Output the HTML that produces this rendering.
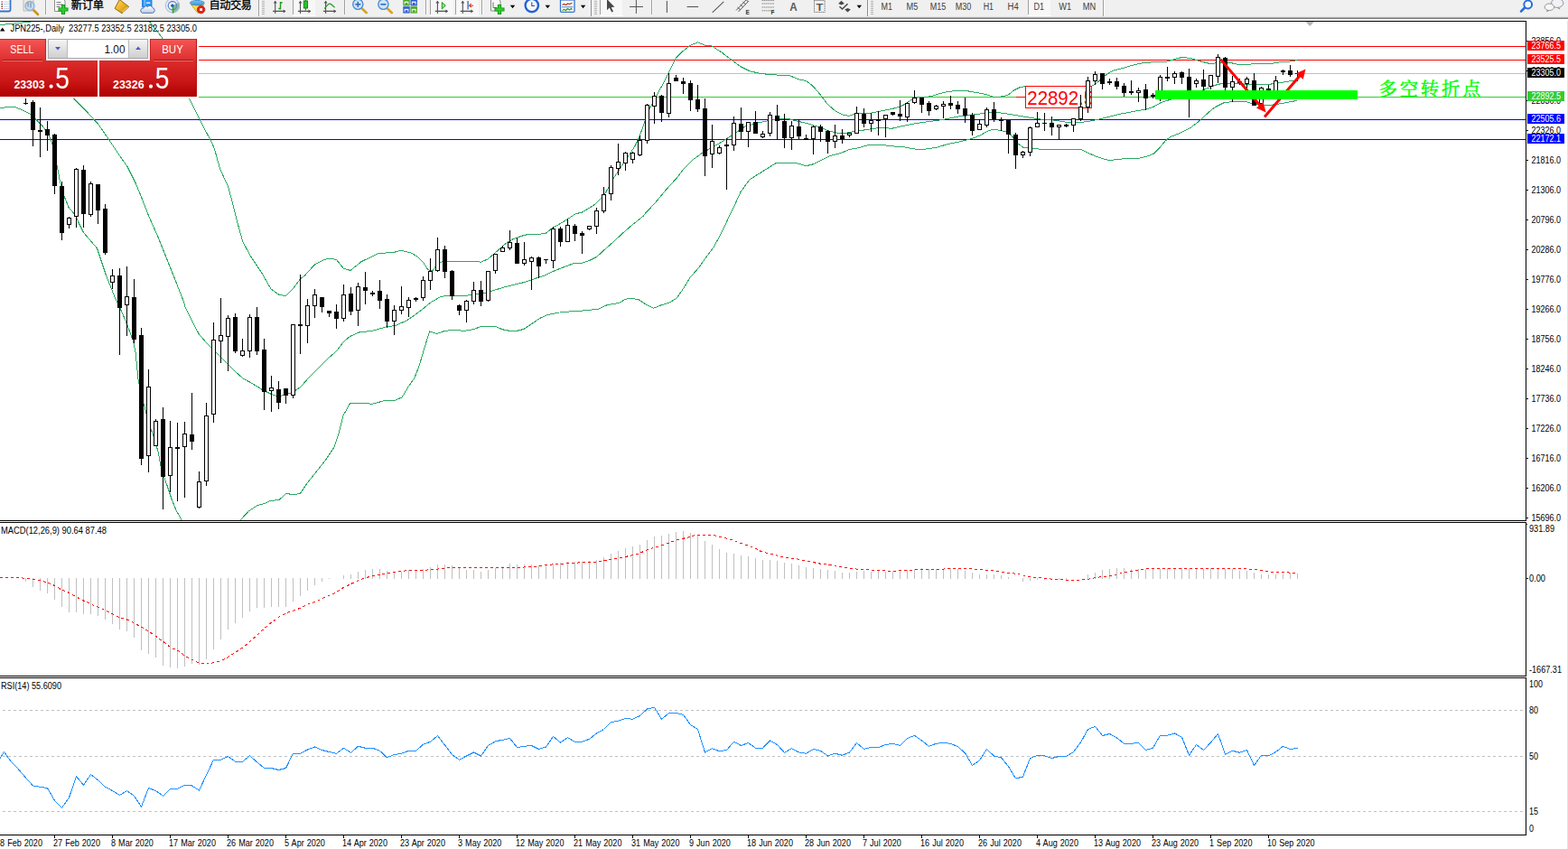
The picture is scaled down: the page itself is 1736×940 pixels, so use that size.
<!DOCTYPE html>
<html><head><meta charset="utf-8"><title>JPN225 Daily</title>
<style>html,body{margin:0;padding:0;background:#fff;overflow:hidden}body{width:1736px;height:940px;font-family:"Liberation Sans",sans-serif}</style>
</head><body>
<svg width="1736" height="940" viewBox="0 0 1736 940" font-family="Liberation Sans, sans-serif" style="display:block">
<defs>
<linearGradient id="gTop" x1="0" y1="0" x2="0" y2="1"><stop offset="0" stop-color="#f65555"/><stop offset="1" stop-color="#dd2f2f"/></linearGradient>
<linearGradient id="gBot" x1="0" y1="0" x2="0" y2="1"><stop offset="0" stop-color="#dc2c2c"/><stop offset="0.6" stop-color="#c81414"/><stop offset="1" stop-color="#ae0000"/></linearGradient>
<linearGradient id="gBtn" x1="0" y1="0" x2="0" y2="1"><stop offset="0" stop-color="#f4f4f4"/><stop offset="1" stop-color="#cfcfcf"/></linearGradient>
<pattern id="chk" width="2" height="2" patternUnits="userSpaceOnUse"><rect width="2" height="2" fill="#f0f0f0"/><rect width="1" height="1" fill="#fff"/><rect x="1" y="1" width="1" height="1" fill="#fff"/></pattern>
<clipPath id="cpMain"><rect x="0" y="24" width="1689" height="552"/></clipPath>
<clipPath id="cpBox"><rect x="1136" y="96" width="72" height="23"/></clipPath>
</defs>
<rect x="0" y="0" width="1736" height="940" fill="#fff" />
<g shape-rendering="crispEdges">
<rect x="0" y="51" width="1689" height="1" fill="#ff0000" />
<rect x="0" y="66" width="1689" height="1" fill="#ff0000" />
<rect x="0" y="81" width="1689" height="1" fill="#c0c0c0" />
<rect x="0" y="107" width="1689" height="1" fill="#32cd32" />
<rect x="0" y="132" width="1689" height="1" fill="#0000ff" />
<rect x="0" y="154" width="1689" height="1" fill="#0000ff" />
</g>
<g fill="none" stroke="#2aa862" stroke-width="1" clip-path="url(#cpMain)" shape-rendering="crispEdges">
<polyline points="0,27.6 20,25.6 34.5,24"/>
<polyline points="165.5,24 172,32 179,41 185,52 192,68 200,88 209.5,108.75 217.5,125 226.25,142.5 233.75,156.25 237.5,165 243.75,187.5 252.5,206.25 257.5,225 262.5,245 268.75,267.5 277.5,283.75 290,302.5 300,320 308.75,326.25 316.25,327.5 325,318.75 332.5,308.75 337.5,305 348.75,292.5 358,288 363.75,286 372.5,287.5 380,296.9 388,299.5 400,289.7 410,285 418.75,280.5 436.25,279.4 443.75,277.1 455,280 462.5,284.4 468.75,290.6 473.75,298.75 478.75,300 483.75,293.1 488.75,290 500,289.5 528.75,289.6 532.5,290.25 540,286.9 547.5,280.6 560,269.4 567.5,265 577.5,261.25 585,259.4 599.5,259 604.5,258.1 610.75,253.1 618.25,248.75 624.5,245 629.5,241.9 637,236.9 644.5,235 652,230.6 659.5,225.6 665,220 670,214.4 675,205 680,196.25 687.5,185 695,173.75 702.5,162.5 707.5,152.5 712.5,138.5 720,118.5 728.75,102.5 736.25,88.75 742.5,76.25 748.75,63.75 755,57.5 765,50 772.5,46.75 780,50 787.5,50.5 800,58.75 810,66.25 820,73.75 830,78.75 842.5,81.6 857.5,82.8 875,84 885,88.1 892.5,89.4 900,95.3 907.5,104 916.25,115.3 925,123.1 932.5,126.9 940,128.4 946.25,126.25 955,125.6 965,125 975,123.1 987.5,120.6 996.25,118.1 1002.5,115 1008.75,110.6 1017.5,107.5 1030,106.9 1037.5,104.4 1047.5,101.9 1057.5,100.6 1072.5,101 1085,103.1 1095,105.6 1100,107.4 1110,106.9 1116.25,105 1122.5,100 1128.75,96.9 1135,95.6 1170,95 1209.4,95 1215,91.25 1225,82.5 1232.5,78.1 1245,75 1255,71.9 1263.75,70 1270,69.75 1280,68.1 1290,68.75 1300,65.6 1307.5,63.75 1312.5,63.75 1320,65 1327.5,67.5 1337.5,70 1345,70 1360,69 1370,71.25 1382.5,71.25 1395,70 1407.5,70.4 1417.5,68.75 1427.5,68.1 1436.25,66.6"/>
<polyline points="0,75 30,80 60,92 81.25,108.75 95,122.5 108.75,137.5 120,153.75 130,168.75 141.25,185 150,202.5 156.25,217.5 165,240 175,262.5 185,287.5 195,312.5 203.75,335 205,340 212.5,355 220,369.5 230,381.25 240,391.25 246.25,397.5 257.5,408.75 268.75,418.75 280,425 290,431.25 300,436.25 307.5,438.75 315,437.5 325,433.75 332.5,428.75 342.5,417.5 360,400 363,397 372.5,388.75 380,378.75 387.5,372.5 397.5,368 412.5,366.25 427.5,361.9 437.5,360.6 450,355 457.5,350 467.5,342.5 477.5,334.4 487.5,328.75 495,327.25 505,328 515,327.5 525,325.6 537,324.2 549.5,320.6 562,316.9 580.75,312.5 593.25,308.1 604.5,304.4 612,300.6 624.5,295.6 634.5,291.9 644.5,291.25 652,288.75 660.75,284.4 669.5,276.25 679.5,267.5 689.5,258.1 699.5,249.4 712,239.4 713.75,237 725,225 737.5,210 750,196.25 756.25,188 767.5,176.6 777.5,169.4 787.5,163.75 797.5,158.1 806.25,152.5 817.5,145 825,140 837.5,136.25 850,133.75 862.5,131.5 872.5,131.5 883.75,134.4 895,136.9 900,138.75 907.5,140.6 916.25,144.4 925,146.9 932.5,148.1 940,146.5 950,145 962.5,143.1 975,141.25 987.5,142.25 1000,139.4 1012.5,136.9 1025,135 1037.5,133.5 1050,131.25 1062.5,128.75 1075,127.5 1085,126 1095,124.6 1105,124.6 1112.5,125.6 1125,127.75 1137.5,129.75 1150,131.9 1162.5,132.5 1172.5,134 1180,135.25 1190,135.6 1200,135 1210,133.5 1220,131.25 1230,128.75 1240,126.25 1250,124.4 1260,122.5 1270,120.6 1277.5,118.1 1285,113.75 1295,110.5 1310,105.5 1331,100 1337.5,97.5 1345,94.4 1352.5,92.5 1365,91.9 1377.5,93.1 1390,93.75 1402.5,93.75 1415,91.9 1427.5,90 1436.25,89.4"/>
<polyline points="0,120 10,118 17.5,118.75 25,122 33.75,126.25 40,132.5 47.5,140 53.75,148.75 58,160 62.5,180 66.25,200 71.25,217.5 76.25,230 82.5,237 87.5,247.5 92.5,257.5 100,266.25 107.5,275 112.5,290 117.5,305 122.5,317.5 127.5,330 132.5,340 140,357.5 147.5,377.5 150,390 153,420 156.25,437.5 160,450 165,470 170,482.5 175,500 178.75,520 185,537.5 190,552.5 195,565 200,573.75 201,576"/>
<polyline points="266,576 275,566.25 285,559.5 292.5,557.5 300,554.25 308.75,553.75 317,546.25 325,548 332.5,546.25 340,535 350,522.5 360,510 370,495 375,480 380,460 387.5,446.75 400,446.25 412.5,447.25 425,443.75 437.5,443.1 445,440 452.5,427.5 458.75,418.75 463.75,406.25 470,385 475.6,366.9 483.75,369.6 492.5,366.25 502.5,365.6 515,366.25 525,364.4 532.5,361.5 548.75,361.5 556.25,364.75 565,366.5 572.5,366.25 580,364.4 587.5,359.4 597.5,352.5 605,349 617,346.25 630,345 645,344 655,343 663,342 672.5,337.5 685,335.6 692.5,331.25 700,330.25 707.5,331.9 715,336.9 723.75,341.25 731.25,338.1 741.25,335 748.75,330.6 756.25,320 763.75,307.5 773.75,296.25 782.5,283.75 790,273.75 796.25,262.5 802.5,250 808.75,236.25 813.75,226.25 820,212.5 830,198.75 840,192.5 850,186.25 860,180 880,180 892.5,183.75 900,181.9 910,176.9 918.75,172.5 931.25,169.4 940,165.6 950,163.75 962.5,160.25 975,160.25 987.5,161.9 1000,162.5 1010,164.75 1020,165.6 1030,164.4 1037.5,163.1 1050,159.4 1062.5,156.9 1075,153.75 1085,150 1092.5,145.6 1100,143.1 1107.5,144.4 1115,146.25 1120,150 1125,157.5 1132.5,163.1 1141.25,163.75 1153.75,165.6 1175,165.6 1197.5,165.6 1206.25,170 1215,173.75 1225,176.9 1230,177.5 1237.5,176.25 1250,175.6 1262.5,175 1270,173.1 1277.5,170 1283.75,163.75 1290,156.25 1295,151.9 1307.5,146.9 1317.5,141.9 1325,136.25 1330,131.9 1337.5,125 1345,118.75 1355,113.75 1365,112.5 1380,112.75 1387.5,115 1400,116.5 1407.5,116.25 1420,114.4 1430,112.5 1436.25,111.25"/>
</g>
<g shape-rendering="crispEdges">
<rect x="1125" y="107" width="11" height="1" fill="#ff0000" />
<rect x="1135.5" y="95.5" width="73" height="24" fill="#fff" stroke="#ff0000" stroke-width="1"/>
</g>
<g clip-path="url(#cpBox)">
<text x="1137.3" y="115.7" font-size="22.6" fill="#ff0000" textLength="73.8" lengthAdjust="spacingAndGlyphs" >22892.5</text>
</g>
<g shape-rendering="crispEdges" fill="#000">
<rect x="28" y="109" width="1" height="7" fill="#000" />
<rect x="26" y="114" width="5" height="1" fill="#000" />
<rect x="36" y="111" width="1" height="51" fill="#000" />
<rect x="34" y="113" width="5" height="31" fill="#000" />
<rect x="44" y="119" width="1" height="55" fill="#000" />
<rect x="42" y="144" width="5" height="2" fill="#000" />
<rect x="52" y="134" width="1" height="33" fill="#000" />
<rect x="50" y="143" width="5" height="7" fill="#000" />
<rect x="60" y="148" width="1" height="67" fill="#000" />
<rect x="58" y="149" width="5" height="57" fill="#000" />
<rect x="68" y="201" width="1" height="65" fill="#000" />
<rect x="66" y="206" width="5" height="52" fill="#000" />
<rect x="76" y="240" width="1" height="13" fill="#000" />
<rect x="74" y="241" width="5" height="8" fill="#000" />
<rect x="75" y="242" width="3" height="6" fill="#fff" />
<rect x="84" y="186" width="1" height="66" fill="#000" />
<rect x="82" y="187" width="5" height="53" fill="#000" />
<rect x="83" y="188" width="3" height="51" fill="#fff" />
<rect x="92" y="183" width="1" height="69" fill="#000" />
<rect x="90" y="188" width="5" height="49" fill="#000" />
<rect x="100" y="201" width="1" height="39" fill="#000" />
<rect x="98" y="203" width="5" height="35" fill="#000" />
<rect x="99" y="204" width="3" height="33" fill="#fff" />
<rect x="108" y="204" width="1" height="44" fill="#000" />
<rect x="106" y="204" width="5" height="29" fill="#000" />
<rect x="116" y="226" width="1" height="56" fill="#000" />
<rect x="114" y="231" width="5" height="49" fill="#000" />
<rect x="124" y="298" width="1" height="22" fill="#000" />
<rect x="122" y="305" width="5" height="8" fill="#000" />
<rect x="123" y="306" width="3" height="6" fill="#fff" />
<rect x="132" y="297" width="1" height="96" fill="#000" />
<rect x="130" y="305" width="5" height="36" fill="#000" />
<rect x="140" y="295" width="1" height="77" fill="#000" />
<rect x="138" y="328" width="5" height="10" fill="#000" />
<rect x="139" y="329" width="3" height="8" fill="#fff" />
<rect x="148" y="309" width="1" height="71" fill="#000" />
<rect x="146" y="329" width="5" height="47" fill="#000" />
<rect x="156" y="363" width="1" height="152" fill="#000" />
<rect x="154" y="371" width="5" height="137" fill="#000" />
<rect x="164" y="409" width="1" height="114" fill="#000" />
<rect x="162" y="428" width="5" height="77" fill="#000" />
<rect x="163" y="429" width="3" height="75" fill="#fff" />
<rect x="172" y="464" width="1" height="30" fill="#000" />
<rect x="170" y="466" width="5" height="28" fill="#000" />
<rect x="171" y="467" width="3" height="26" fill="#fff" />
<rect x="180" y="451" width="1" height="113" fill="#000" />
<rect x="178" y="464" width="5" height="64" fill="#000" />
<rect x="188" y="466" width="1" height="79" fill="#000" />
<rect x="186" y="495" width="5" height="32" fill="#000" />
<rect x="187" y="496" width="3" height="30" fill="#fff" />
<rect x="196" y="468" width="1" height="87" fill="#000" />
<rect x="194" y="495" width="5" height="2" fill="#000" />
<rect x="204" y="467" width="1" height="84" fill="#000" />
<rect x="202" y="480" width="5" height="15" fill="#000" />
<rect x="203" y="481" width="3" height="13" fill="#fff" />
<rect x="212" y="435" width="1" height="63" fill="#000" />
<rect x="210" y="481" width="5" height="8" fill="#000" />
<rect x="220" y="522" width="1" height="41" fill="#000" />
<rect x="218" y="533" width="5" height="29" fill="#000" />
<rect x="219" y="534" width="3" height="27" fill="#fff" />
<rect x="228" y="446" width="1" height="92" fill="#000" />
<rect x="226" y="460" width="5" height="73" fill="#000" />
<rect x="227" y="461" width="3" height="71" fill="#fff" />
<rect x="236" y="357" width="1" height="111" fill="#000" />
<rect x="234" y="376" width="5" height="83" fill="#000" />
<rect x="235" y="377" width="3" height="81" fill="#fff" />
<rect x="244" y="330" width="1" height="72" fill="#000" />
<rect x="242" y="371" width="5" height="7" fill="#000" />
<rect x="243" y="372" width="3" height="5" fill="#fff" />
<rect x="252" y="349" width="1" height="62" fill="#000" />
<rect x="250" y="352" width="5" height="21" fill="#000" />
<rect x="251" y="353" width="3" height="19" fill="#fff" />
<rect x="260" y="347" width="1" height="44" fill="#000" />
<rect x="258" y="351" width="5" height="38" fill="#000" />
<rect x="268" y="375" width="1" height="20" fill="#000" />
<rect x="266" y="388" width="5" height="6" fill="#000" />
<rect x="267" y="389" width="3" height="4" fill="#fff" />
<rect x="276" y="348" width="1" height="48" fill="#000" />
<rect x="274" y="351" width="5" height="38" fill="#000" />
<rect x="275" y="352" width="3" height="36" fill="#fff" />
<rect x="284" y="340" width="1" height="53" fill="#000" />
<rect x="282" y="351" width="5" height="38" fill="#000" />
<rect x="292" y="375" width="1" height="79" fill="#000" />
<rect x="290" y="387" width="5" height="47" fill="#000" />
<rect x="300" y="416" width="1" height="40" fill="#000" />
<rect x="298" y="429" width="5" height="4" fill="#000" />
<rect x="299" y="430" width="3" height="2" fill="#fff" />
<rect x="308" y="422" width="1" height="31" fill="#000" />
<rect x="306" y="431" width="5" height="15" fill="#000" />
<rect x="316" y="430" width="1" height="17" fill="#000" />
<rect x="314" y="430" width="5" height="8" fill="#000" />
<rect x="324" y="359" width="1" height="82" fill="#000" />
<rect x="322" y="359" width="5" height="79" fill="#000" />
<rect x="323" y="360" width="3" height="77" fill="#fff" />
<rect x="332" y="304" width="1" height="88" fill="#000" />
<rect x="330" y="359" width="5" height="2" fill="#000" />
<rect x="340" y="331" width="1" height="49" fill="#000" />
<rect x="338" y="338" width="5" height="23" fill="#000" />
<rect x="339" y="339" width="3" height="21" fill="#fff" />
<rect x="348" y="320" width="1" height="32" fill="#000" />
<rect x="346" y="326" width="5" height="13" fill="#000" />
<rect x="347" y="327" width="3" height="11" fill="#fff" />
<rect x="356" y="329" width="1" height="17" fill="#000" />
<rect x="354" y="329" width="5" height="11" fill="#000" />
<rect x="364" y="344" width="1" height="7" fill="#000" />
<rect x="362" y="344" width="5" height="3" fill="#000" />
<rect x="372" y="337" width="1" height="27" fill="#000" />
<rect x="370" y="345" width="5" height="8" fill="#000" />
<rect x="380" y="315" width="1" height="41" fill="#000" />
<rect x="378" y="326" width="5" height="27" fill="#000" />
<rect x="379" y="327" width="3" height="25" fill="#fff" />
<rect x="388" y="318" width="1" height="31" fill="#000" />
<rect x="386" y="325" width="5" height="20" fill="#000" />
<rect x="396" y="313" width="1" height="48" fill="#000" />
<rect x="394" y="317" width="5" height="27" fill="#000" />
<rect x="395" y="318" width="3" height="25" fill="#fff" />
<rect x="404" y="301" width="1" height="36" fill="#000" />
<rect x="402" y="318" width="5" height="4" fill="#000" />
<rect x="412" y="322" width="1" height="6" fill="#000" />
<rect x="410" y="324" width="5" height="2" fill="#000" />
<rect x="420" y="310" width="1" height="32" fill="#000" />
<rect x="418" y="322" width="5" height="11" fill="#000" />
<rect x="428" y="326" width="1" height="37" fill="#000" />
<rect x="426" y="331" width="5" height="25" fill="#000" />
<rect x="436" y="338" width="1" height="33" fill="#000" />
<rect x="434" y="343" width="5" height="13" fill="#000" />
<rect x="435" y="344" width="3" height="11" fill="#fff" />
<rect x="444" y="317" width="1" height="31" fill="#000" />
<rect x="442" y="339" width="5" height="5" fill="#000" />
<rect x="443" y="340" width="3" height="3" fill="#fff" />
<rect x="452" y="329" width="1" height="22" fill="#000" />
<rect x="450" y="332" width="5" height="9" fill="#000" />
<rect x="451" y="333" width="3" height="7" fill="#fff" />
<rect x="460" y="329" width="1" height="5" fill="#000" />
<rect x="458" y="330" width="5" height="2" fill="#000" />
<rect x="468" y="306" width="1" height="27" fill="#000" />
<rect x="466" y="310" width="5" height="20" fill="#000" />
<rect x="467" y="311" width="3" height="18" fill="#fff" />
<rect x="476" y="286" width="1" height="35" fill="#000" />
<rect x="474" y="300" width="5" height="11" fill="#000" />
<rect x="475" y="301" width="3" height="9" fill="#fff" />
<rect x="484" y="263" width="1" height="38" fill="#000" />
<rect x="482" y="276" width="5" height="24" fill="#000" />
<rect x="483" y="277" width="3" height="22" fill="#fff" />
<rect x="492" y="272" width="1" height="36" fill="#000" />
<rect x="490" y="276" width="5" height="25" fill="#000" />
<rect x="500" y="299" width="1" height="33" fill="#000" />
<rect x="498" y="300" width="5" height="28" fill="#000" />
<rect x="508" y="337" width="1" height="12" fill="#000" />
<rect x="506" y="338" width="5" height="6" fill="#000" />
<rect x="516" y="332" width="1" height="25" fill="#000" />
<rect x="514" y="333" width="5" height="11" fill="#000" />
<rect x="515" y="334" width="3" height="9" fill="#fff" />
<rect x="524" y="312" width="1" height="25" fill="#000" />
<rect x="522" y="321" width="5" height="13" fill="#000" />
<rect x="523" y="322" width="3" height="11" fill="#fff" />
<rect x="532" y="311" width="1" height="28" fill="#000" />
<rect x="530" y="321" width="5" height="13" fill="#000" />
<rect x="540" y="300" width="1" height="34" fill="#000" />
<rect x="538" y="300" width="5" height="33" fill="#000" />
<rect x="539" y="301" width="3" height="31" fill="#fff" />
<rect x="548" y="281" width="1" height="22" fill="#000" />
<rect x="546" y="281" width="5" height="19" fill="#000" />
<rect x="547" y="282" width="3" height="17" fill="#fff" />
<rect x="556" y="272" width="1" height="7" fill="#000" />
<rect x="554" y="274" width="5" height="5" fill="#000" />
<rect x="555" y="275" width="3" height="3" fill="#fff" />
<rect x="564" y="255" width="1" height="22" fill="#000" />
<rect x="562" y="268" width="5" height="7" fill="#000" />
<rect x="563" y="269" width="3" height="5" fill="#fff" />
<rect x="572" y="263" width="1" height="29" fill="#000" />
<rect x="570" y="269" width="5" height="23" fill="#000" />
<rect x="580" y="268" width="1" height="26" fill="#000" />
<rect x="578" y="287" width="5" height="5" fill="#000" />
<rect x="579" y="288" width="3" height="3" fill="#fff" />
<rect x="588" y="284" width="1" height="37" fill="#000" />
<rect x="586" y="285" width="5" height="5" fill="#000" />
<rect x="587" y="286" width="3" height="3" fill="#fff" />
<rect x="596" y="284" width="1" height="24" fill="#000" />
<rect x="594" y="285" width="5" height="10" fill="#000" />
<rect x="604" y="287" width="1" height="5" fill="#000" />
<rect x="602" y="287" width="5" height="1" fill="#000" />
<rect x="612" y="251" width="1" height="46" fill="#000" />
<rect x="610" y="253" width="5" height="36" fill="#000" />
<rect x="611" y="254" width="3" height="34" fill="#fff" />
<rect x="620" y="251" width="1" height="22" fill="#000" />
<rect x="618" y="253" width="5" height="15" fill="#000" />
<rect x="628" y="242" width="1" height="26" fill="#000" />
<rect x="626" y="249" width="5" height="19" fill="#000" />
<rect x="627" y="250" width="3" height="17" fill="#fff" />
<rect x="636" y="248" width="1" height="19" fill="#000" />
<rect x="634" y="250" width="5" height="9" fill="#000" />
<rect x="644" y="256" width="1" height="25" fill="#000" />
<rect x="642" y="258" width="5" height="3" fill="#000" />
<rect x="652" y="250" width="1" height="5" fill="#000" />
<rect x="650" y="250" width="5" height="4" fill="#000" />
<rect x="651" y="251" width="3" height="2" fill="#fff" />
<rect x="660" y="230" width="1" height="29" fill="#000" />
<rect x="658" y="233" width="5" height="18" fill="#000" />
<rect x="659" y="234" width="3" height="16" fill="#fff" />
<rect x="668" y="207" width="1" height="29" fill="#000" />
<rect x="666" y="215" width="5" height="19" fill="#000" />
<rect x="667" y="216" width="3" height="17" fill="#fff" />
<rect x="676" y="183" width="1" height="39" fill="#000" />
<rect x="674" y="185" width="5" height="30" fill="#000" />
<rect x="675" y="186" width="3" height="28" fill="#fff" />
<rect x="684" y="159" width="1" height="35" fill="#000" />
<rect x="682" y="179" width="5" height="8" fill="#000" />
<rect x="683" y="180" width="3" height="6" fill="#fff" />
<rect x="692" y="168" width="1" height="21" fill="#000" />
<rect x="690" y="169" width="5" height="12" fill="#000" />
<rect x="691" y="170" width="3" height="10" fill="#fff" />
<rect x="700" y="168" width="1" height="13" fill="#000" />
<rect x="698" y="169" width="5" height="8" fill="#000" />
<rect x="699" y="170" width="3" height="6" fill="#fff" />
<rect x="708" y="150" width="1" height="23" fill="#000" />
<rect x="706" y="155" width="5" height="17" fill="#000" />
<rect x="707" y="156" width="3" height="15" fill="#fff" />
<rect x="716" y="115" width="1" height="44" fill="#000" />
<rect x="714" y="116" width="5" height="40" fill="#000" />
<rect x="715" y="117" width="3" height="38" fill="#fff" />
<rect x="724" y="102" width="1" height="35" fill="#000" />
<rect x="722" y="106" width="5" height="12" fill="#000" />
<rect x="723" y="107" width="3" height="10" fill="#fff" />
<rect x="732" y="105" width="1" height="30" fill="#000" />
<rect x="730" y="106" width="5" height="19" fill="#000" />
<rect x="740" y="81" width="1" height="49" fill="#000" />
<rect x="738" y="92" width="5" height="34" fill="#000" />
<rect x="739" y="93" width="3" height="32" fill="#fff" />
<rect x="748" y="83" width="1" height="7" fill="#000" />
<rect x="746" y="86" width="5" height="4" fill="#000" />
<rect x="756" y="86" width="1" height="18" fill="#000" />
<rect x="754" y="90" width="5" height="3" fill="#000" />
<rect x="764" y="89" width="1" height="34" fill="#000" />
<rect x="762" y="92" width="5" height="19" fill="#000" />
<rect x="772" y="94" width="1" height="30" fill="#000" />
<rect x="770" y="110" width="5" height="11" fill="#000" />
<rect x="780" y="109" width="1" height="86" fill="#000" />
<rect x="778" y="120" width="5" height="53" fill="#000" />
<rect x="788" y="138" width="1" height="48" fill="#000" />
<rect x="786" y="156" width="5" height="15" fill="#000" />
<rect x="787" y="157" width="3" height="13" fill="#fff" />
<rect x="796" y="161" width="1" height="10" fill="#000" />
<rect x="794" y="163" width="5" height="7" fill="#000" />
<rect x="795" y="164" width="3" height="5" fill="#fff" />
<rect x="804" y="153" width="1" height="57" fill="#000" />
<rect x="802" y="160" width="5" height="2" fill="#000" />
<rect x="812" y="129" width="1" height="38" fill="#000" />
<rect x="810" y="136" width="5" height="25" fill="#000" />
<rect x="811" y="137" width="3" height="23" fill="#fff" />
<rect x="820" y="119" width="1" height="35" fill="#000" />
<rect x="818" y="137" width="5" height="9" fill="#000" />
<rect x="828" y="135" width="1" height="28" fill="#000" />
<rect x="826" y="135" width="5" height="11" fill="#000" />
<rect x="827" y="136" width="3" height="9" fill="#fff" />
<rect x="836" y="123" width="1" height="25" fill="#000" />
<rect x="834" y="135" width="5" height="13" fill="#000" />
<rect x="844" y="145" width="1" height="8" fill="#000" />
<rect x="842" y="148" width="5" height="4" fill="#000" />
<rect x="843" y="149" width="3" height="2" fill="#fff" />
<rect x="852" y="124" width="1" height="27" fill="#000" />
<rect x="850" y="127" width="5" height="21" fill="#000" />
<rect x="851" y="128" width="3" height="19" fill="#fff" />
<rect x="860" y="116" width="1" height="39" fill="#000" />
<rect x="858" y="128" width="5" height="6" fill="#000" />
<rect x="868" y="126" width="1" height="38" fill="#000" />
<rect x="866" y="134" width="5" height="19" fill="#000" />
<rect x="876" y="134" width="1" height="32" fill="#000" />
<rect x="874" y="139" width="5" height="14" fill="#000" />
<rect x="875" y="140" width="3" height="12" fill="#fff" />
<rect x="884" y="132" width="1" height="22" fill="#000" />
<rect x="882" y="140" width="5" height="11" fill="#000" />
<rect x="892" y="149" width="1" height="6" fill="#000" />
<rect x="890" y="153" width="5" height="2" fill="#000" />
<rect x="900" y="139" width="1" height="32" fill="#000" />
<rect x="898" y="140" width="5" height="14" fill="#000" />
<rect x="899" y="141" width="3" height="12" fill="#fff" />
<rect x="908" y="138" width="1" height="19" fill="#000" />
<rect x="906" y="140" width="5" height="6" fill="#000" />
<rect x="916" y="144" width="1" height="26" fill="#000" />
<rect x="914" y="145" width="5" height="12" fill="#000" />
<rect x="924" y="138" width="1" height="26" fill="#000" />
<rect x="922" y="150" width="5" height="7" fill="#000" />
<rect x="923" y="151" width="3" height="5" fill="#fff" />
<rect x="932" y="143" width="1" height="16" fill="#000" />
<rect x="930" y="150" width="5" height="4" fill="#000" />
<rect x="940" y="147" width="1" height="5" fill="#000" />
<rect x="938" y="147" width="5" height="3" fill="#000" />
<rect x="939" y="148" width="3" height="1" fill="#fff" />
<rect x="948" y="118" width="1" height="30" fill="#000" />
<rect x="946" y="125" width="5" height="23" fill="#000" />
<rect x="947" y="126" width="3" height="21" fill="#fff" />
<rect x="956" y="120" width="1" height="21" fill="#000" />
<rect x="954" y="126" width="5" height="11" fill="#000" />
<rect x="964" y="125" width="1" height="21" fill="#000" />
<rect x="962" y="133" width="5" height="4" fill="#000" />
<rect x="963" y="134" width="3" height="2" fill="#fff" />
<rect x="972" y="123" width="1" height="27" fill="#000" />
<rect x="970" y="132" width="5" height="2" fill="#000" />
<rect x="980" y="127" width="1" height="25" fill="#000" />
<rect x="978" y="127" width="5" height="5" fill="#000" />
<rect x="979" y="128" width="3" height="3" fill="#fff" />
<rect x="988" y="124" width="1" height="4" fill="#000" />
<rect x="986" y="124" width="5" height="3" fill="#000" />
<rect x="996" y="111" width="1" height="23" fill="#000" />
<rect x="994" y="126" width="5" height="3" fill="#000" />
<rect x="1004" y="113" width="1" height="22" fill="#000" />
<rect x="1002" y="114" width="5" height="16" fill="#000" />
<rect x="1003" y="115" width="3" height="14" fill="#fff" />
<rect x="1012" y="100" width="1" height="15" fill="#000" />
<rect x="1010" y="108" width="5" height="6" fill="#000" />
<rect x="1011" y="109" width="3" height="4" fill="#fff" />
<rect x="1020" y="108" width="1" height="17" fill="#000" />
<rect x="1018" y="108" width="5" height="8" fill="#000" />
<rect x="1028" y="112" width="1" height="16" fill="#000" />
<rect x="1026" y="114" width="5" height="9" fill="#000" />
<rect x="1036" y="116" width="1" height="6" fill="#000" />
<rect x="1034" y="117" width="5" height="4" fill="#000" />
<rect x="1035" y="118" width="3" height="2" fill="#fff" />
<rect x="1044" y="112" width="1" height="19" fill="#000" />
<rect x="1042" y="115" width="5" height="3" fill="#000" />
<rect x="1043" y="116" width="3" height="1" fill="#fff" />
<rect x="1052" y="106" width="1" height="15" fill="#000" />
<rect x="1050" y="114" width="5" height="3" fill="#000" />
<rect x="1060" y="112" width="1" height="14" fill="#000" />
<rect x="1058" y="116" width="5" height="5" fill="#000" />
<rect x="1068" y="108" width="1" height="28" fill="#000" />
<rect x="1066" y="120" width="5" height="8" fill="#000" />
<rect x="1076" y="125" width="1" height="25" fill="#000" />
<rect x="1074" y="127" width="5" height="18" fill="#000" />
<rect x="1084" y="132" width="1" height="12" fill="#000" />
<rect x="1082" y="137" width="5" height="7" fill="#000" />
<rect x="1083" y="138" width="3" height="5" fill="#fff" />
<rect x="1092" y="119" width="1" height="22" fill="#000" />
<rect x="1090" y="121" width="5" height="18" fill="#000" />
<rect x="1091" y="122" width="3" height="16" fill="#fff" />
<rect x="1100" y="113" width="1" height="22" fill="#000" />
<rect x="1098" y="121" width="5" height="11" fill="#000" />
<rect x="1108" y="130" width="1" height="15" fill="#000" />
<rect x="1106" y="132" width="5" height="2" fill="#000" />
<rect x="1116" y="133" width="1" height="37" fill="#000" />
<rect x="1114" y="133" width="5" height="16" fill="#000" />
<rect x="1124" y="147" width="1" height="40" fill="#000" />
<rect x="1122" y="149" width="5" height="23" fill="#000" />
<rect x="1132" y="167" width="1" height="8" fill="#000" />
<rect x="1130" y="168" width="5" height="4" fill="#000" />
<rect x="1131" y="169" width="3" height="2" fill="#fff" />
<rect x="1140" y="140" width="1" height="33" fill="#000" />
<rect x="1138" y="141" width="5" height="28" fill="#000" />
<rect x="1139" y="142" width="3" height="26" fill="#fff" />
<rect x="1148" y="124" width="1" height="17" fill="#000" />
<rect x="1146" y="136" width="5" height="5" fill="#000" />
<rect x="1147" y="137" width="3" height="3" fill="#fff" />
<rect x="1156" y="125" width="1" height="20" fill="#000" />
<rect x="1154" y="136" width="5" height="1" fill="#000" />
<rect x="1164" y="129" width="1" height="21" fill="#000" />
<rect x="1162" y="136" width="5" height="5" fill="#000" />
<rect x="1172" y="138" width="1" height="17" fill="#000" />
<rect x="1170" y="138" width="5" height="3" fill="#000" />
<rect x="1171" y="139" width="3" height="1" fill="#fff" />
<rect x="1180" y="137" width="1" height="4" fill="#000" />
<rect x="1178" y="138" width="5" height="2" fill="#000" />
<rect x="1188" y="131" width="1" height="15" fill="#000" />
<rect x="1186" y="131" width="5" height="8" fill="#000" />
<rect x="1187" y="132" width="3" height="6" fill="#fff" />
<rect x="1196" y="105" width="1" height="29" fill="#000" />
<rect x="1194" y="118" width="5" height="14" fill="#000" />
<rect x="1195" y="119" width="3" height="12" fill="#fff" />
<rect x="1204" y="85" width="1" height="40" fill="#000" />
<rect x="1202" y="89" width="5" height="30" fill="#000" />
<rect x="1203" y="90" width="3" height="28" fill="#fff" />
<rect x="1212" y="79" width="1" height="15" fill="#000" />
<rect x="1210" y="82" width="5" height="8" fill="#000" />
<rect x="1211" y="83" width="3" height="6" fill="#fff" />
<rect x="1220" y="81" width="1" height="18" fill="#000" />
<rect x="1218" y="81" width="5" height="12" fill="#000" />
<rect x="1228" y="87" width="1" height="7" fill="#000" />
<rect x="1226" y="90" width="5" height="2" fill="#000" />
<rect x="1236" y="86" width="1" height="13" fill="#000" />
<rect x="1234" y="90" width="5" height="6" fill="#000" />
<rect x="1244" y="92" width="1" height="15" fill="#000" />
<rect x="1242" y="95" width="5" height="8" fill="#000" />
<rect x="1252" y="89" width="1" height="16" fill="#000" />
<rect x="1250" y="101" width="5" height="2" fill="#000" />
<rect x="1260" y="97" width="1" height="16" fill="#000" />
<rect x="1258" y="100" width="5" height="3" fill="#000" />
<rect x="1259" y="101" width="3" height="1" fill="#fff" />
<rect x="1268" y="93" width="1" height="29" fill="#000" />
<rect x="1266" y="99" width="5" height="10" fill="#000" />
<rect x="1276" y="103" width="1" height="6" fill="#000" />
<rect x="1274" y="105" width="5" height="2" fill="#000" />
<rect x="1284" y="83" width="1" height="29" fill="#000" />
<rect x="1282" y="85" width="5" height="21" fill="#000" />
<rect x="1283" y="86" width="3" height="19" fill="#fff" />
<rect x="1292" y="74" width="1" height="16" fill="#000" />
<rect x="1290" y="85" width="5" height="2" fill="#000" />
<rect x="1300" y="79" width="1" height="14" fill="#000" />
<rect x="1298" y="81" width="5" height="5" fill="#000" />
<rect x="1299" y="82" width="3" height="3" fill="#fff" />
<rect x="1308" y="79" width="1" height="14" fill="#000" />
<rect x="1306" y="80" width="5" height="6" fill="#000" />
<rect x="1316" y="76" width="1" height="54" fill="#000" />
<rect x="1314" y="85" width="5" height="19" fill="#000" />
<rect x="1324" y="87" width="1" height="10" fill="#000" />
<rect x="1322" y="89" width="5" height="4" fill="#000" />
<rect x="1323" y="90" width="3" height="2" fill="#fff" />
<rect x="1332" y="77" width="1" height="23" fill="#000" />
<rect x="1330" y="88" width="5" height="8" fill="#000" />
<rect x="1340" y="83" width="1" height="16" fill="#000" />
<rect x="1338" y="83" width="5" height="13" fill="#000" />
<rect x="1339" y="84" width="3" height="11" fill="#fff" />
<rect x="1348" y="60" width="1" height="32" fill="#000" />
<rect x="1346" y="63" width="5" height="22" fill="#000" />
<rect x="1347" y="64" width="3" height="20" fill="#fff" />
<rect x="1356" y="63" width="1" height="37" fill="#000" />
<rect x="1354" y="64" width="5" height="33" fill="#000" />
<rect x="1364" y="84" width="1" height="29" fill="#000" />
<rect x="1362" y="90" width="5" height="7" fill="#000" />
<rect x="1363" y="91" width="3" height="5" fill="#fff" />
<rect x="1372" y="87" width="1" height="7" fill="#000" />
<rect x="1370" y="90" width="5" height="2" fill="#000" />
<rect x="1380" y="85" width="1" height="16" fill="#000" />
<rect x="1378" y="87" width="5" height="6" fill="#000" />
<rect x="1379" y="88" width="3" height="4" fill="#fff" />
<rect x="1388" y="81" width="1" height="36" fill="#000" />
<rect x="1386" y="89" width="5" height="28" fill="#000" />
<rect x="1396" y="96" width="1" height="20" fill="#000" />
<rect x="1394" y="97" width="5" height="18" fill="#000" />
<rect x="1395" y="98" width="3" height="16" fill="#fff" />
<rect x="1404" y="94" width="1" height="11" fill="#000" />
<rect x="1402" y="98" width="5" height="5" fill="#000" />
<rect x="1412" y="84" width="1" height="22" fill="#000" />
<rect x="1410" y="89" width="5" height="15" fill="#000" />
<rect x="1411" y="90" width="3" height="13" fill="#fff" />
<rect x="1420" y="77" width="1" height="6" fill="#000" />
<rect x="1418" y="78" width="5" height="2" fill="#000" />
<rect x="1428" y="72" width="1" height="13" fill="#000" />
<rect x="1426" y="78" width="5" height="5" fill="#000" />
<rect x="1436" y="78" width="1" height="12" fill="#000" />
<rect x="1434" y="81" width="5" height="1" fill="#000" />
</g>
<polygon points="1445.5,24 1455,24 1450.2,29" fill="#b4b4b4"/>
<g stroke="#ff0000" stroke-width="3" fill="#ff0000" stroke-linecap="butt">
<line x1="1351.3" y1="65.6" x2="1396.5" y2="118.5"/>
<polygon points="1401.6,124.4 1391.0,119.5 1398.6,113.0" stroke="none"/>
<line x1="1400" y1="129.4" x2="1440" y2="82.8"/>
<polygon points="1445.5,76.4 1442.8,87.8 1435.0,81.2" stroke="none"/>
</g>
<rect x="1279" y="100" width="224" height="10" fill="#00ff00" shape-rendering="crispEdges"/>
<text x="1526.6" y="105.6" font-size="20.5" letter-spacing="2.6" fill="#00ff00" stroke="#00ff00" stroke-width="0.45" font-family="'Liberation Serif','Noto Serif CJK SC',serif">多空转折点</text>
<g shape-rendering="crispEdges" fill="#000">
<rect x="0" y="23" width="1690" height="1" fill="#000" />
<rect x="1689" y="23" width="1" height="902" fill="#000" />
<rect x="0" y="576" width="1690" height="1" fill="#000" />
<rect x="0" y="577" width="1689" height="1" fill="#fff" />
<rect x="0" y="578" width="1690" height="1" fill="#000" />
<rect x="0" y="748" width="1690" height="1" fill="#000" />
<rect x="0" y="749" width="1689" height="1" fill="#fff" />
<rect x="0" y="750" width="1690" height="1" fill="#000" />
<rect x="0" y="924" width="1690" height="1" fill="#000" />
<rect x="1735" y="21" width="1" height="919" fill="#e2e2e2" />
<rect x="1689" y="577" width="1" height="1" fill="#fff" />
<rect x="1689" y="749" width="1" height="1" fill="#fff" />
</g>
<g shape-rendering="crispEdges">
<rect x="1690" y="573" width="2" height="1" fill="#000" />
<rect x="1690" y="540" width="2" height="1" fill="#000" />
<rect x="1690" y="507" width="2" height="1" fill="#000" />
<rect x="1690" y="474" width="2" height="1" fill="#000" />
<rect x="1690" y="441" width="2" height="1" fill="#000" />
<rect x="1690" y="408" width="2" height="1" fill="#000" />
<rect x="1690" y="375" width="2" height="1" fill="#000" />
<rect x="1690" y="342" width="2" height="1" fill="#000" />
<rect x="1690" y="309" width="2" height="1" fill="#000" />
<rect x="1690" y="276" width="2" height="1" fill="#000" />
<rect x="1690" y="243" width="2" height="1" fill="#000" />
<rect x="1690" y="210" width="2" height="1" fill="#000" />
<rect x="1690" y="177" width="2" height="1" fill="#000" />
<rect x="1690" y="144" width="2" height="1" fill="#000" />
<rect x="1690" y="111" width="2" height="1" fill="#000" />
<rect x="1690" y="78" width="2" height="1" fill="#000" />
<rect x="1690" y="45" width="2" height="1" fill="#000" />
</g>
<text x="1695.4" y="577" font-size="10" fill="#000" textLength="32.6" lengthAdjust="spacingAndGlyphs" >15696.0</text>
<text x="1695.4" y="544" font-size="10" fill="#000" textLength="32.6" lengthAdjust="spacingAndGlyphs" >16206.0</text>
<text x="1695.4" y="511" font-size="10" fill="#000" textLength="32.6" lengthAdjust="spacingAndGlyphs" >16716.0</text>
<text x="1695.4" y="478" font-size="10" fill="#000" textLength="32.6" lengthAdjust="spacingAndGlyphs" >17226.0</text>
<text x="1695.4" y="445" font-size="10" fill="#000" textLength="32.6" lengthAdjust="spacingAndGlyphs" >17736.0</text>
<text x="1695.4" y="412" font-size="10" fill="#000" textLength="32.6" lengthAdjust="spacingAndGlyphs" >18246.0</text>
<text x="1695.4" y="379" font-size="10" fill="#000" textLength="32.6" lengthAdjust="spacingAndGlyphs" >18756.0</text>
<text x="1695.4" y="346" font-size="10" fill="#000" textLength="32.6" lengthAdjust="spacingAndGlyphs" >19266.0</text>
<text x="1695.4" y="313" font-size="10" fill="#000" textLength="32.6" lengthAdjust="spacingAndGlyphs" >19776.0</text>
<text x="1695.4" y="280" font-size="10" fill="#000" textLength="32.6" lengthAdjust="spacingAndGlyphs" >20286.0</text>
<text x="1695.4" y="247" font-size="10" fill="#000" textLength="32.6" lengthAdjust="spacingAndGlyphs" >20796.0</text>
<text x="1695.4" y="214" font-size="10" fill="#000" textLength="32.6" lengthAdjust="spacingAndGlyphs" >21306.0</text>
<text x="1695.4" y="181" font-size="10" fill="#000" textLength="32.6" lengthAdjust="spacingAndGlyphs" >21816.0</text>
<text x="1695.4" y="148" font-size="10" fill="#000" textLength="32.6" lengthAdjust="spacingAndGlyphs" >22326.0</text>
<text x="1695.4" y="115" font-size="10" fill="#000" textLength="32.6" lengthAdjust="spacingAndGlyphs" >22836.0</text>
<text x="1695.4" y="82" font-size="10" fill="#000" textLength="32.6" lengthAdjust="spacingAndGlyphs" >23346.0</text>
<text x="1695.4" y="49" font-size="10" fill="#000" textLength="32.6" lengthAdjust="spacingAndGlyphs" >23856.0</text>
<rect x="1691" y="45" width="41" height="11" fill="#ff0000" shape-rendering="crispEdges"/>
<text x="1695.4" y="54" font-size="10" fill="#fff" textLength="32.6" lengthAdjust="spacingAndGlyphs" >23766.5</text>
<rect x="1691" y="60" width="41" height="11" fill="#ff0000" shape-rendering="crispEdges"/>
<text x="1695.4" y="69" font-size="10" fill="#fff" textLength="32.6" lengthAdjust="spacingAndGlyphs" >23525.5</text>
<rect x="1691" y="75" width="41" height="11" fill="#000000" shape-rendering="crispEdges"/>
<text x="1695.4" y="84" font-size="10" fill="#fff" textLength="32.6" lengthAdjust="spacingAndGlyphs" >23305.0</text>
<rect x="1691" y="101" width="41" height="11" fill="#32cd32" shape-rendering="crispEdges"/>
<text x="1695.4" y="110" font-size="10" fill="#fff" textLength="32.6" lengthAdjust="spacingAndGlyphs" >22892.5</text>
<rect x="1691" y="126" width="41" height="11" fill="#0000ff" shape-rendering="crispEdges"/>
<text x="1695.4" y="135" font-size="10" fill="#fff" textLength="32.6" lengthAdjust="spacingAndGlyphs" >22505.6</text>
<rect x="1691" y="148" width="41" height="11" fill="#0000ff" shape-rendering="crispEdges"/>
<text x="1695.4" y="157" font-size="10" fill="#fff" textLength="32.6" lengthAdjust="spacingAndGlyphs" >22172.1</text>
<g shape-rendering="crispEdges" fill="#c0c0c0">
<rect x="28" y="640" width="1" height="4"/>
<rect x="36" y="640" width="1" height="10"/>
<rect x="44" y="640" width="1" height="14"/>
<rect x="52" y="640" width="1" height="17"/>
<rect x="60" y="640" width="1" height="24"/>
<rect x="68" y="640" width="1" height="32"/>
<rect x="76" y="640" width="1" height="38"/>
<rect x="84" y="640" width="1" height="38"/>
<rect x="92" y="640" width="1" height="40"/>
<rect x="100" y="640" width="1" height="40"/>
<rect x="108" y="640" width="1" height="42"/>
<rect x="116" y="640" width="1" height="46"/>
<rect x="124" y="640" width="1" height="51"/>
<rect x="132" y="640" width="1" height="57"/>
<rect x="140" y="640" width="1" height="59"/>
<rect x="148" y="640" width="1" height="66"/>
<rect x="156" y="640" width="1" height="80"/>
<rect x="164" y="640" width="1" height="84"/>
<rect x="172" y="640" width="1" height="88"/>
<rect x="180" y="640" width="1" height="97"/>
<rect x="188" y="640" width="1" height="99"/>
<rect x="196" y="640" width="1" height="100"/>
<rect x="204" y="640" width="1" height="98"/>
<rect x="212" y="640" width="1" height="95"/>
<rect x="220" y="640" width="1" height="96"/>
<rect x="228" y="640" width="1" height="90"/>
<rect x="236" y="640" width="1" height="79"/>
<rect x="244" y="640" width="1" height="68"/>
<rect x="252" y="640" width="1" height="57"/>
<rect x="260" y="640" width="1" height="50"/>
<rect x="268" y="640" width="1" height="44"/>
<rect x="276" y="640" width="1" height="37"/>
<rect x="284" y="640" width="1" height="33"/>
<rect x="292" y="640" width="1" height="33"/>
<rect x="300" y="640" width="1" height="32"/>
<rect x="308" y="640" width="1" height="32"/>
<rect x="316" y="640" width="1" height="32"/>
<rect x="324" y="640" width="1" height="26"/>
<rect x="332" y="640" width="1" height="20"/>
<rect x="340" y="640" width="1" height="14"/>
<rect x="348" y="640" width="1" height="8"/>
<rect x="356" y="640" width="1" height="4"/>
<rect x="364" y="640" width="1" height="1"/>
<rect x="380" y="637" width="1" height="4"/>
<rect x="388" y="636" width="1" height="5"/>
<rect x="396" y="633" width="1" height="8"/>
<rect x="404" y="631" width="1" height="10"/>
<rect x="412" y="630" width="1" height="11"/>
<rect x="420" y="630" width="1" height="11"/>
<rect x="428" y="632" width="1" height="9"/>
<rect x="436" y="633" width="1" height="8"/>
<rect x="444" y="633" width="1" height="8"/>
<rect x="452" y="631" width="1" height="10"/>
<rect x="460" y="631" width="1" height="10"/>
<rect x="468" y="630" width="1" height="11"/>
<rect x="476" y="628" width="1" height="13"/>
<rect x="484" y="625" width="1" height="16"/>
<rect x="492" y="625" width="1" height="16"/>
<rect x="500" y="626" width="1" height="15"/>
<rect x="508" y="629" width="1" height="12"/>
<rect x="516" y="631" width="1" height="10"/>
<rect x="524" y="631" width="1" height="10"/>
<rect x="532" y="633" width="1" height="8"/>
<rect x="540" y="631" width="1" height="10"/>
<rect x="548" y="629" width="1" height="12"/>
<rect x="556" y="627" width="1" height="14"/>
<rect x="564" y="624" width="1" height="17"/>
<rect x="572" y="625" width="1" height="16"/>
<rect x="580" y="625" width="1" height="16"/>
<rect x="588" y="625" width="1" height="16"/>
<rect x="596" y="626" width="1" height="15"/>
<rect x="604" y="625" width="1" height="16"/>
<rect x="612" y="624" width="1" height="17"/>
<rect x="620" y="623" width="1" height="18"/>
<rect x="628" y="622" width="1" height="19"/>
<rect x="636" y="622" width="1" height="19"/>
<rect x="644" y="622" width="1" height="19"/>
<rect x="652" y="621" width="1" height="20"/>
<rect x="660" y="620" width="1" height="21"/>
<rect x="668" y="617" width="1" height="24"/>
<rect x="676" y="613" width="1" height="28"/>
<rect x="684" y="610" width="1" height="31"/>
<rect x="692" y="607" width="1" height="34"/>
<rect x="700" y="605" width="1" height="36"/>
<rect x="708" y="603" width="1" height="38"/>
<rect x="716" y="598" width="1" height="43"/>
<rect x="724" y="594" width="1" height="47"/>
<rect x="732" y="593" width="1" height="48"/>
<rect x="740" y="591" width="1" height="50"/>
<rect x="748" y="589" width="1" height="52"/>
<rect x="756" y="588" width="1" height="53"/>
<rect x="764" y="590" width="1" height="51"/>
<rect x="772" y="593" width="1" height="48"/>
<rect x="780" y="599" width="1" height="42"/>
<rect x="788" y="603" width="1" height="38"/>
<rect x="796" y="608" width="1" height="33"/>
<rect x="804" y="612" width="1" height="29"/>
<rect x="812" y="613" width="1" height="28"/>
<rect x="820" y="615" width="1" height="26"/>
<rect x="828" y="616" width="1" height="25"/>
<rect x="836" y="618" width="1" height="23"/>
<rect x="844" y="620" width="1" height="21"/>
<rect x="852" y="620" width="1" height="21"/>
<rect x="860" y="621" width="1" height="20"/>
<rect x="868" y="623" width="1" height="18"/>
<rect x="876" y="624" width="1" height="17"/>
<rect x="884" y="626" width="1" height="15"/>
<rect x="892" y="628" width="1" height="13"/>
<rect x="900" y="629" width="1" height="12"/>
<rect x="908" y="630" width="1" height="11"/>
<rect x="916" y="631" width="1" height="10"/>
<rect x="924" y="632" width="1" height="9"/>
<rect x="932" y="634" width="1" height="7"/>
<rect x="940" y="634" width="1" height="7"/>
<rect x="948" y="633" width="1" height="8"/>
<rect x="956" y="632" width="1" height="9"/>
<rect x="964" y="633" width="1" height="8"/>
<rect x="972" y="632" width="1" height="9"/>
<rect x="980" y="633" width="1" height="8"/>
<rect x="988" y="633" width="1" height="8"/>
<rect x="996" y="632" width="1" height="9"/>
<rect x="1004" y="631" width="1" height="10"/>
<rect x="1012" y="630" width="1" height="11"/>
<rect x="1020" y="629" width="1" height="12"/>
<rect x="1028" y="630" width="1" height="11"/>
<rect x="1036" y="630" width="1" height="11"/>
<rect x="1044" y="630" width="1" height="11"/>
<rect x="1052" y="629" width="1" height="12"/>
<rect x="1060" y="630" width="1" height="11"/>
<rect x="1068" y="632" width="1" height="9"/>
<rect x="1076" y="634" width="1" height="7"/>
<rect x="1084" y="636" width="1" height="5"/>
<rect x="1092" y="636" width="1" height="5"/>
<rect x="1100" y="636" width="1" height="5"/>
<rect x="1108" y="637" width="1" height="4"/>
<rect x="1116" y="639" width="1" height="2"/>
<rect x="1132" y="640" width="1" height="4"/>
<rect x="1140" y="640" width="1" height="3"/>
<rect x="1148" y="640" width="1" height="2"/>
<rect x="1156" y="640" width="1" height="2"/>
<rect x="1164" y="640" width="1" height="2"/>
<rect x="1172" y="640" width="1" height="2"/>
<rect x="1180" y="640" width="1" height="2"/>
<rect x="1204" y="636" width="1" height="5"/>
<rect x="1212" y="634" width="1" height="7"/>
<rect x="1220" y="631" width="1" height="10"/>
<rect x="1228" y="630" width="1" height="11"/>
<rect x="1236" y="629" width="1" height="12"/>
<rect x="1244" y="629" width="1" height="12"/>
<rect x="1252" y="630" width="1" height="11"/>
<rect x="1260" y="630" width="1" height="11"/>
<rect x="1268" y="630" width="1" height="11"/>
<rect x="1276" y="630" width="1" height="11"/>
<rect x="1284" y="630" width="1" height="11"/>
<rect x="1292" y="629" width="1" height="12"/>
<rect x="1300" y="629" width="1" height="12"/>
<rect x="1308" y="629" width="1" height="12"/>
<rect x="1316" y="630" width="1" height="11"/>
<rect x="1324" y="630" width="1" height="11"/>
<rect x="1332" y="630" width="1" height="11"/>
<rect x="1340" y="629" width="1" height="12"/>
<rect x="1348" y="629" width="1" height="12"/>
<rect x="1356" y="630" width="1" height="11"/>
<rect x="1364" y="630" width="1" height="11"/>
<rect x="1372" y="632" width="1" height="9"/>
<rect x="1380" y="632" width="1" height="9"/>
<rect x="1388" y="634" width="1" height="7"/>
<rect x="1396" y="636" width="1" height="5"/>
<rect x="1404" y="636" width="1" height="5"/>
<rect x="1412" y="636" width="1" height="5"/>
<rect x="1420" y="636" width="1" height="5"/>
<rect x="1428" y="634" width="1" height="7"/>
<rect x="1436" y="635" width="1" height="6"/>
</g>
<polyline points="0,639.5 20,639.5 32.5,640.75 45,643 52.5,645 60,648.25 67.5,652.5 75,655.75 85,661.25 95,666.25 105,670.75 115,675 125,680 132.5,683.75 140,685.75 150,690.5 160,696.25 170,702.5 180,710 190,717.5 197.5,720.75 205,726.25 212.5,730.5 220,733.75 230,735 240,733 250,729.25 260,722.5 270,716.25 280,707.5 290,698.25 300,689.5 310,682.5 320,677.5 330,674.25 340,669.5 350,665.75 360,661.25 370,657 380,650.75 390,645.75 400,641.25 410,638.25 420,636.25 430,634.25 445,632.5 452.5,631.25 470,631.25 485,630 500,628.25 545,628.25 575,628.25 590,627.5 605,625.5 620,624.25 635,623.25 650,622.5 665,621.75 675,619.5 690,617 705,613.75 720,607.5 735,603.25 750,597.5 760,595.5 770,592.5 790,592.5 800,595 812.5,598.25 825,603.25 835,606.25 842.5,610.5 850,612.5 860,615 870,617.5 885,619.25 897.5,622 910,624.5 922.5,625.75 935,628.25 947.5,630 965,631.25 980,632 995,632 1010,631.25 1025,630 1045,630 1055,629.25 1070,629.25 1085,630.5 1100,632 1115,634.25 1127.5,635.5 1140,638.75 1152.5,640 1165,641.25 1180,642 1195,642 1205,641.25 1215,639.25 1225,638 1235,636.25 1245,633.75 1255,632 1265,630.5 1275,629.25 1367.5,629.25 1380,630 1395,631.25 1405,633 1422.5,633.25 1430,634.5 1436,634.5" fill="none" stroke="#ff0000" stroke-width="1" stroke-dasharray="3 3" shape-rendering="crispEdges"/>
<text x="1" y="591" font-size="10" fill="#000" textLength="117" lengthAdjust="spacingAndGlyphs" >MACD(12,26,9) 90.64 87.48</text>
<rect x="1690" y="580" width="1" height="1" fill="#000" />
<rect x="1690" y="640" width="2" height="1" fill="#000" />
<text x="1693" y="589" font-size="10" fill="#000" textLength="28" lengthAdjust="spacingAndGlyphs" >931.89</text>
<text x="1693" y="644" font-size="10" fill="#000" textLength="18" lengthAdjust="spacingAndGlyphs" >0.00</text>
<text x="1693" y="745" font-size="10" fill="#000" textLength="36" lengthAdjust="spacingAndGlyphs" >-1667.31</text>
<g shape-rendering="crispEdges" stroke="#c0c0c0" stroke-width="1" stroke-dasharray="3 3">
<line x1="3" y1="786.5" x2="1689" y2="786.5"/>
<line x1="3" y1="837.5" x2="1689" y2="837.5"/>
<line x1="3" y1="898.5" x2="1689" y2="898.5"/>
</g>
<polyline points="0,840 4.5,832.5 12.5,843.75 20.5,851.75 28.5,861.25 36.5,870 44.5,871.25 52.5,872.5 60.5,886.25 68.5,894.5 76.5,883 84.5,859.5 92.5,869.25 100.5,857.5 108.5,863.75 116.5,871.25 124.5,875.5 132.5,880.5 140.5,875.5 148.5,881.25 156.5,893.25 164.5,872.5 172.5,875.5 180.5,881.25 188.5,873.25 196.5,873.25 204.5,869.25 212.5,870 220.5,875 228.5,858 236.5,841.25 244.5,841.25 252.5,837.5 260.5,843.25 268.5,843.25 276.5,836.75 284.5,843.75 292.5,850.5 300.5,850.5 308.5,852.5 316.5,850.5 324.5,834.25 332.5,834.25 340.5,830 348.5,827 356.5,830.5 364.5,832.5 372.5,834.25 380.5,828.25 388.5,833.25 396.5,826.25 404.5,828.25 412.5,828.25 420.5,831.25 428.5,838.75 436.5,835.5 444.5,834.25 452.5,831.25 460.5,831.25 468.5,824.25 476.5,821.25 484.5,814.5 492.5,825 500.5,835.5 508.5,841.25 516.5,837 524.5,833 532.5,837 540.5,825.5 548.5,820.75 556.5,819.25 564.5,817.5 572.5,827.5 580.5,826.25 588.5,825.5 596.5,829.5 604.5,827 612.5,815.5 620.5,822 628.5,816.75 636.5,821.25 644.5,821.25 652.5,818.25 660.5,812 668.5,807.5 676.5,799.5 684.5,798.25 692.5,795.5 700.5,796.25 708.5,792.5 716.5,785 724.5,783.25 732.5,796.25 740.5,789.5 748.5,789.5 756.5,791.25 764.5,802.5 772.5,807.5 780.5,833 788.5,828.75 796.5,831.75 804.5,830.5 812.5,821.25 820.5,825.5 828.5,822.5 836.5,828.25 844.5,828.25 852.5,820 860.5,824.5 868.5,833.25 876.5,828.75 884.5,833 892.5,834.25 900.5,829.5 908.5,831.25 916.5,837 924.5,834.25 932.5,836.25 940.5,833 948.5,822.5 956.5,829.25 964.5,827.5 972.5,827.5 980.5,824.5 988.5,823.25 996.5,825.5 1004.5,817.5 1012.5,814.25 1020.5,820 1028.5,826.25 1036.5,823.25 1044.5,822.5 1052.5,823.25 1060.5,826.75 1068.5,833.75 1076.5,847.5 1084.5,841.75 1092.5,829.5 1100.5,837 1108.5,838.75 1116.5,848.75 1124.5,862 1132.5,860 1140.5,839.5 1148.5,836.25 1156.5,836.75 1164.5,839.5 1172.5,837.5 1180.5,837.5 1188.5,832.5 1196.5,822 1204.5,807.5 1212.5,804.25 1220.5,814.5 1228.5,812.5 1236.5,817 1244.5,823.25 1252.5,823.25 1260.5,822.5 1268.5,830.5 1276.5,828.25 1284.5,814.25 1292.5,814.25 1300.5,812 1308.5,816.25 1316.5,836.25 1324.5,824.5 1332.5,830.5 1340.5,822 1348.5,812.5 1356.5,835 1364.5,831.25 1372.5,833.25 1380.5,830.5 1388.5,847.5 1396.5,836.25 1404.5,837 1412.5,832.5 1420.5,826.25 1428.5,829.5 1436.5,828.25" fill="none" stroke="#1e90ff" stroke-width="1" shape-rendering="crispEdges"/>
<text x="1" y="763" font-size="10" fill="#000" textLength="67" lengthAdjust="spacingAndGlyphs" >RSI(14) 55.6090</text>
<text x="1693" y="761" font-size="10" fill="#000" textLength="15" lengthAdjust="spacingAndGlyphs" >100</text>
<text x="1693" y="790" font-size="10" fill="#000" textLength="10" lengthAdjust="spacingAndGlyphs" >80</text>
<text x="1693" y="841" font-size="10" fill="#000" textLength="10" lengthAdjust="spacingAndGlyphs" >50</text>
<text x="1693" y="902" font-size="10" fill="#000" textLength="10" lengthAdjust="spacingAndGlyphs" >15</text>
<text x="1693" y="921" font-size="10" fill="#000" textLength="5" lengthAdjust="spacingAndGlyphs" >0</text>
<g shape-rendering="crispEdges">
<rect x="60" y="925" width="1" height="3" fill="#000" />
<rect x="124" y="925" width="1" height="3" fill="#000" />
<rect x="188" y="925" width="1" height="3" fill="#000" />
<rect x="252" y="925" width="1" height="3" fill="#000" />
<rect x="316" y="925" width="1" height="3" fill="#000" />
<rect x="380" y="925" width="1" height="3" fill="#000" />
<rect x="444" y="925" width="1" height="3" fill="#000" />
<rect x="508" y="925" width="1" height="3" fill="#000" />
<rect x="572" y="925" width="1" height="3" fill="#000" />
<rect x="636" y="925" width="1" height="3" fill="#000" />
<rect x="700" y="925" width="1" height="3" fill="#000" />
<rect x="764" y="925" width="1" height="3" fill="#000" />
<rect x="828" y="925" width="1" height="3" fill="#000" />
<rect x="892" y="925" width="1" height="3" fill="#000" />
<rect x="956" y="925" width="1" height="3" fill="#000" />
<rect x="1020" y="925" width="1" height="3" fill="#000" />
<rect x="1084" y="925" width="1" height="3" fill="#000" />
<rect x="1148" y="925" width="1" height="3" fill="#000" />
<rect x="1212" y="925" width="1" height="3" fill="#000" />
<rect x="1276" y="925" width="1" height="3" fill="#000" />
<rect x="1340" y="925" width="1" height="3" fill="#000" />
<rect x="1404" y="925" width="1" height="3" fill="#000" />
</g>
<text transform="translate(-5,937) scale(0.907,1)" font-size="10" fill="#000" word-spacing="0.6">18 Feb 2020</text>
<text transform="translate(59,937) scale(0.907,1)" font-size="10" fill="#000" word-spacing="0.6">27 Feb 2020</text>
<text transform="translate(123,937) scale(0.907,1)" font-size="10" fill="#000" word-spacing="0.6">8 Mar 2020</text>
<text transform="translate(187,937) scale(0.907,1)" font-size="10" fill="#000" word-spacing="0.6">17 Mar 2020</text>
<text transform="translate(251,937) scale(0.907,1)" font-size="10" fill="#000" word-spacing="0.6">26 Mar 2020</text>
<text transform="translate(315,937) scale(0.907,1)" font-size="10" fill="#000" word-spacing="0.6">5 Apr 2020</text>
<text transform="translate(379,937) scale(0.907,1)" font-size="10" fill="#000" word-spacing="0.6">14 Apr 2020</text>
<text transform="translate(443,937) scale(0.907,1)" font-size="10" fill="#000" word-spacing="0.6">23 Apr 2020</text>
<text transform="translate(507,937) scale(0.907,1)" font-size="10" fill="#000" word-spacing="0.6">3 May 2020</text>
<text transform="translate(571,937) scale(0.907,1)" font-size="10" fill="#000" word-spacing="0.6">12 May 2020</text>
<text transform="translate(635,937) scale(0.907,1)" font-size="10" fill="#000" word-spacing="0.6">21 May 2020</text>
<text transform="translate(699,937) scale(0.907,1)" font-size="10" fill="#000" word-spacing="0.6">31 May 2020</text>
<text transform="translate(763,937) scale(0.907,1)" font-size="10" fill="#000" word-spacing="0.6">9 Jun 2020</text>
<text transform="translate(827,937) scale(0.907,1)" font-size="10" fill="#000" word-spacing="0.6">18 Jun 2020</text>
<text transform="translate(891,937) scale(0.907,1)" font-size="10" fill="#000" word-spacing="0.6">28 Jun 2020</text>
<text transform="translate(955,937) scale(0.907,1)" font-size="10" fill="#000" word-spacing="0.6">7 Jul 2020</text>
<text transform="translate(1019,937) scale(0.907,1)" font-size="10" fill="#000" word-spacing="0.6">16 Jul 2020</text>
<text transform="translate(1083,937) scale(0.907,1)" font-size="10" fill="#000" word-spacing="0.6">26 Jul 2020</text>
<text transform="translate(1147,937) scale(0.907,1)" font-size="10" fill="#000" word-spacing="0.6">4 Aug 2020</text>
<text transform="translate(1211,937) scale(0.907,1)" font-size="10" fill="#000" word-spacing="0.6">13 Aug 2020</text>
<text transform="translate(1275,937) scale(0.907,1)" font-size="10" fill="#000" word-spacing="0.6">23 Aug 2020</text>
<text transform="translate(1339,937) scale(0.907,1)" font-size="10" fill="#000" word-spacing="0.6">1 Sep 2020</text>
<text transform="translate(1403,937) scale(0.907,1)" font-size="10" fill="#000" word-spacing="0.6">10 Sep 2020</text>
<polygon points="0,34.5 5.5,34.5 2.7,30.5" fill="#000"/>
<text x="11.5" y="35" font-size="10" fill="#000" textLength="206.5" lengthAdjust="spacingAndGlyphs" xml:space="preserve">JPN225-,Daily&#160;&#160;23277.5 23352.5 23182.5 23305.0</text>
<g shape-rendering="crispEdges">
<rect x="0" y="43" width="220" height="66" fill="#fff" />
<rect x="0" y="43" width="51" height="24" fill="url(#gTop)" />
<rect x="166" y="43" width="52" height="24" fill="url(#gTop)" />
<rect x="0" y="67" width="108" height="40" fill="url(#gBot)" />
<rect x="110" y="67" width="108" height="40" fill="url(#gBot)" />
<rect x="3" y="66" width="44" height="1" fill="#b01010" />
<rect x="170" y="66" width="44" height="1" fill="#b01010" />
<rect x="51" y="43" width="115" height="24" fill="#f0f0f0" />
<rect x="53.5" y="43.5" width="110" height="21" fill="#fff" stroke="#a8a8b0" stroke-width="1"/>
<rect x="54" y="44" width="20" height="20" fill="url(#gBtn)" />
<rect x="143" y="44" width="20" height="20" fill="url(#gBtn)" />
<rect x="74" y="44" width="1" height="20" fill="#b8b8c0" />
<rect x="142" y="44" width="1" height="20" fill="#b8b8c0" />
</g>
<polygon points="61,52 67,52 64,55.5" fill="#4a5ac8"/>
<polygon points="150,55 156,55 153,51.5" fill="#4a5ac8"/>
<g shape-rendering="crispEdges">
<rect x="0" y="43" width="51" height="1" fill="#cc2828" />
<rect x="166" y="43" width="52" height="1" fill="#cc2828" />
<rect x="50" y="43" width="1" height="24" fill="#c82020" />
<rect x="166" y="43" width="1" height="24" fill="#c82020" />
<rect x="217" y="43" width="1" height="64" fill="#b81010" />
<rect x="3" y="67" width="44" height="1" fill="#ee6a6a" />
<rect x="170" y="67" width="44" height="1" fill="#ee6a6a" />
</g>
<text x="24.3" y="59.2" font-size="12.5" fill="#fff" text-anchor="middle" textLength="26" lengthAdjust="spacingAndGlyphs" >SELL</text>
<text x="191" y="59.2" font-size="12.5" fill="#fff" text-anchor="middle" textLength="23.5" lengthAdjust="spacingAndGlyphs" >BUY</text>
<text x="138.5" y="58.5" font-size="12" fill="#101010" text-anchor="end" textLength="23" lengthAdjust="spacingAndGlyphs" >1.00</text>
<text x="15.4" y="97.6" font-size="12.5" fill="#fff" textLength="34.2" lengthAdjust="spacingAndGlyphs" font-weight="bold" >23303</text>
<text x="125" y="97.6" font-size="12.5" fill="#fff" textLength="34.6" lengthAdjust="spacingAndGlyphs" font-weight="bold" >23326</text>
<circle cx="56.6" cy="95.7" r="2.1" fill="#fff"/><circle cx="167" cy="95.7" r="2.1" fill="#fff"/>
<text x="61.3" y="97.6" font-size="33.5" fill="#fff" textLength="15.6" lengthAdjust="spacingAndGlyphs" >5</text>
<text x="171.8" y="97.6" font-size="33.5" fill="#fff" textLength="15.6" lengthAdjust="spacingAndGlyphs" >5</text>
<g shape-rendering="crispEdges">
<rect x="0" y="0" width="1736" height="18" fill="#f0f0f0" />
<rect x="0" y="18" width="1736" height="1" fill="#e6e6e6" />
<rect x="0" y="19" width="1736" height="1" fill="#ababab" />
<rect x="0" y="20" width="1736" height="1" fill="#7a7a7a" />
</g>
<g>
<rect x="-2" y="-4" width="13.5" height="16.5" rx="1.5" fill="#fff" stroke="#3774c4" stroke-width="1.8"/>
<rect x="1.5" y="1.5" width="1.5" height="1.2" fill="#d02020"/>
<rect x="4" y="1.8" width="6" height="0.6" fill="#9db4d8"/>
<rect x="1.5" y="4" width="1.5" height="1.2" fill="#202020"/>
<rect x="4" y="4.3" width="6" height="0.6" fill="#9db4d8"/>
<rect x="1.5" y="6.5" width="1.5" height="1.2" fill="#202020"/>
<rect x="4" y="6.8" width="6" height="0.6" fill="#9db4d8"/>
<rect x="1.5" y="8.8" width="1.5" height="1.2" fill="#d02020"/>
<rect x="4" y="9.100000000000001" width="6" height="0.6" fill="#9db4d8"/>
<rect x="26" y="-2" width="11" height="14" fill="#ece8e0" stroke="#b8b0a0" stroke-width="0.8"/>
<path d="M37.5 11.5L42 16" stroke="#c8961c" stroke-width="2.6" stroke-linecap="round"/>
<circle cx="33" cy="6.5" r="5" fill="#c4daf0" fill-opacity="0.85" stroke="#8fb2dc" stroke-width="1.3"/>
<path d="M31 2.5v5 M34 2.5v6" stroke="#7890b0" stroke-width="1.2"/>
<rect x="50" y="0" width="1" height="16" fill="#a0a0a0" shape-rendering="crispEdges"/><rect x="51" y="0" width="1" height="16" fill="#fafafa" shape-rendering="crispEdges"/>
<path d="M60.5 -2H69l3 3V12.5H60.5Z" fill="#fff" stroke="#8c8c8c" stroke-width="1"/>
<path d="M62.5 2.5h5 M62.5 5h7 M62.5 7.5h4" stroke="#707070" stroke-width="1"/>
<path d="M70 5V16 M64.5 10.5H75.5" stroke="#0c8c0c" stroke-width="4.2"/>
<path d="M70 5.8V15.2 M65.3 10.5H74.7" stroke="#30cc30" stroke-width="2.6"/>
<text x="78.8" y="10.4" font-size="12.2" textLength="36.2" lengthAdjust="spacing" fill="#000" stroke="#000" stroke-width="0.34" font-family="'Liberation Sans','Noto Sans CJK SC',sans-serif">新订单</text>
<defs><linearGradient id="gGold" x1="0" y1="0" x2="1" y2="1"><stop offset="0" stop-color="#fbe070"/><stop offset="0.5" stop-color="#eeb424"/><stop offset="1" stop-color="#b87c0c"/></linearGradient><linearGradient id="gCloud" x1="0" y1="0" x2="0" y2="1"><stop offset="0" stop-color="#ffffff"/><stop offset="1" stop-color="#bccbe4"/></linearGradient><linearGradient id="gHat" x1="0" y1="0" x2="0" y2="1"><stop offset="0" stop-color="#7cc4f0"/><stop offset="1" stop-color="#3a94d8"/></linearGradient></defs>
<path d="M132.4 -0.5L142.8 7.6L135 14.7L127.1 9.4Z" fill="url(#gGold)" stroke="#9a6408" stroke-width="1"/>
<path d="M136.2 14L143.2 8.2 M135.2 13L141.8 7.6" stroke="#fff4cc" stroke-width="0.7" fill="none"/>
<rect x="157.6" y="-2" width="10.4" height="9.6" fill="#2b97f6" stroke="#1170d8" stroke-width="0.8"/>
<path d="M160.2 -1V6.5" stroke="#9cd0ff" stroke-width="1"/>
<rect x="162" y="2.4" width="4.4" height="1.6" fill="#d4ecff"/>
<path d="M157.6 14.4h11a2.9 2.9 0 0 0 0.4-5.7a3.3 3.3 0 0 0-5.6-1.2a2.6 2.6 0 0 0-4.4 1.5a2.8 2.8 0 0 0-1.4 5.4Z" fill="url(#gCloud)" stroke="#4a6cac" stroke-width="0.9"/>
<path d="M191.2 6.5L191.2 14.4A7.9 7.9 0 0 0 197.9 2.4Z" fill="#5cb45c" fill-opacity="0.75"/>
<circle cx="190.9" cy="6.2" r="7.6" fill="none" stroke="#a4bce8" stroke-width="1.1"/>
<circle cx="190.9" cy="6.2" r="4.7" fill="none" stroke="#5c88d8" stroke-width="1.3"/>
<circle cx="190.9" cy="6.2" r="1.7" fill="#2454c4"/>
<path d="M191.5 7.5V14.6" stroke="#2ca42c" stroke-width="1.6"/>
<path d="M211.6 5.2L225.8 5.2L219.2 14.7Z" fill="#f8dc50" stroke="#c8a018" stroke-width="0.9"/>
<path d="M215 2.6c0.6-1.6 1-3 1.2-4.6h4c0.3 1.8 0.8 3.2 1.6 4.6Z" fill="url(#gHat)"/>
<ellipse cx="218.3" cy="3.2" rx="8" ry="2.7" fill="url(#gHat)" stroke="#3288cc" stroke-width="0.7"/>
<circle cx="222.6" cy="10.6" r="4.2" fill="#e42414" stroke="#b01008" stroke-width="0.8"/>
<rect x="221.2" y="9.2" width="2.8" height="2.8" fill="#fff"/>
<text x="231.5" y="10.4" font-size="12.2" textLength="47.3" lengthAdjust="spacing" fill="#000" stroke="#000" stroke-width="0.34" font-family="'Liberation Sans','Noto Sans CJK SC',sans-serif">自动交易</text>
<rect x="286" y="0" width="1" height="19" fill="#a0a0a0" shape-rendering="crispEdges"/><rect x="287" y="0" width="1" height="19" fill="#fafafa" shape-rendering="crispEdges"/>
<rect x="290" y="1" width="3" height="1" fill="#b4b4b4" shape-rendering="crispEdges"/>
<rect x="290" y="3" width="3" height="1" fill="#b4b4b4" shape-rendering="crispEdges"/>
<rect x="290" y="5" width="3" height="1" fill="#b4b4b4" shape-rendering="crispEdges"/>
<rect x="290" y="7" width="3" height="1" fill="#b4b4b4" shape-rendering="crispEdges"/>
<rect x="290" y="9" width="3" height="1" fill="#b4b4b4" shape-rendering="crispEdges"/>
<rect x="290" y="11" width="3" height="1" fill="#b4b4b4" shape-rendering="crispEdges"/>
<rect x="290" y="13" width="3" height="1" fill="#b4b4b4" shape-rendering="crispEdges"/>
<rect x="290" y="15" width="3" height="1" fill="#b4b4b4" shape-rendering="crispEdges"/>
<path d="M304.7 1.5V15 M302.1 12.4H315.7" stroke="#505050" stroke-width="1.1" fill="none"/>
<path d="M302.7 3.6L304.7 0.8L306.7 3.6Z M313.7 10.5L316.5 12.5L313.7 14.5Z" fill="#505050"/>
<path d="M310.5 2V10.5 M310.5 3h2.2 M308.3 9.5h2.2" stroke="#1c9c1c" stroke-width="1.4" fill="none"/>
<rect x="324" y="0" width="1" height="16" fill="#a0a0a0" shape-rendering="crispEdges"/><rect x="325" y="0" width="1" height="16" fill="#fafafa" shape-rendering="crispEdges"/>
<rect x="325" y="0" width="24" height="17" fill="url(#chk)" shape-rendering="crispEdges"/><rect x="324" y="17" width="26" height="1" fill="#fff" shape-rendering="crispEdges"/>
<path d="M332.5 1.5V15 M329.9 12.4H343.5" stroke="#505050" stroke-width="1.1" fill="none"/>
<path d="M330.5 3.6L332.5 0.8L334.5 3.6Z M341.5 10.5L344.3 12.5L341.5 14.5Z" fill="#505050"/>
<path d="M338.4 0V11.5" stroke="#1c7c1c" stroke-width="1"/>
<rect x="336.3" y="1" width="4.3" height="8" fill="#28c428" stroke="#147814" stroke-width="0.9"/>
<path d="M360.6 1.5V15 M358 12.4H371.6" stroke="#505050" stroke-width="1.1" fill="none"/>
<path d="M358.6 3.6L360.6 0.8L362.6 3.6Z M369.6 10.5L372.4 12.5L369.6 14.5Z" fill="#505050"/>
<path d="M359.2 9.6C361.5 6.5 363.5 4.2 365.2 4.2S368.5 6.8 370.6 8.2" stroke="#1c9c1c" stroke-width="1.2" fill="none"/>
<rect x="381" y="0" width="1" height="16" fill="#a0a0a0" shape-rendering="crispEdges"/><rect x="382" y="0" width="1" height="16" fill="#fafafa" shape-rendering="crispEdges"/>
<path d="M400.8 9.5L405.8 14.2" stroke="#d4a424" stroke-width="2.6" stroke-linecap="round"/>
<circle cx="396.3" cy="4.8" r="5.6" fill="#cfe4f6" stroke="#4c8cd4" stroke-width="1.4"/>
<path d="M393.3 4.8H399.3" stroke="#2c6cc0" stroke-width="1.6"/>
<path d="M396.3 1.8V7.8" stroke="#2c6cc0" stroke-width="1.6"/>
<path d="M428.9 9.5L433.9 14.2" stroke="#d4a424" stroke-width="2.6" stroke-linecap="round"/>
<circle cx="424.4" cy="4.8" r="5.6" fill="#cfe4f6" stroke="#4c8cd4" stroke-width="1.4"/>
<path d="M421.4 4.8H427.4" stroke="#2c6cc0" stroke-width="1.6"/>
<rect x="446.3" y="-1" width="7.4" height="7.4" fill="#4aa81c"/>
<rect x="447.6" y="1.6" width="4.8" height="3.4" fill="#f0f4ff"/>
<rect x="448.6" y="3.0" width="2.8" height="2" fill="#4aa81c"/>
<rect x="454.5" y="-1" width="7.4" height="7.4" fill="#2c5cd4"/>
<rect x="455.8" y="1.6" width="4.8" height="3.4" fill="#f0f4ff"/>
<rect x="456.8" y="3.0" width="2.8" height="2" fill="#2c5cd4"/>
<rect x="446.3" y="7.2" width="7.4" height="7.4" fill="#2c5cd4"/>
<rect x="447.6" y="9.8" width="4.8" height="3.4" fill="#f0f4ff"/>
<rect x="448.6" y="11.2" width="2.8" height="2" fill="#2c5cd4"/>
<rect x="454.5" y="7.2" width="7.4" height="7.4" fill="#4aa81c"/>
<rect x="455.8" y="9.8" width="4.8" height="3.4" fill="#f0f4ff"/>
<rect x="456.8" y="11.2" width="2.8" height="2" fill="#4aa81c"/>
<rect x="471" y="0" width="1" height="16" fill="#a0a0a0" shape-rendering="crispEdges"/><rect x="472" y="0" width="1" height="16" fill="#fafafa" shape-rendering="crispEdges"/>
<rect x="476" y="0" width="1" height="16" fill="#a0a0a0" shape-rendering="crispEdges"/><rect x="477" y="0" width="1" height="16" fill="#fafafa" shape-rendering="crispEdges"/>
<rect x="477" y="0" width="25" height="17" fill="url(#chk)" shape-rendering="crispEdges"/><rect x="476" y="17" width="27" height="1" fill="#fff" shape-rendering="crispEdges"/>
<path d="M484.4 1.5V15 M481.8 12.4H495.4" stroke="#505050" stroke-width="1.1" fill="none"/>
<path d="M482.4 3.6L484.4 0.8L486.4 3.6Z M493.4 10.5L496.2 12.5L493.4 14.5Z" fill="#505050"/>
<polygon points="489.3,2.5 489.3,10 493.3,6.2" fill="#8ce08c" stroke="#1c9c1c" stroke-width="1"/>
<rect x="504" y="0" width="1" height="16" fill="#a0a0a0" shape-rendering="crispEdges"/><rect x="505" y="0" width="1" height="16" fill="#fafafa" shape-rendering="crispEdges"/>
<rect x="505" y="0" width="25" height="17" fill="url(#chk)" shape-rendering="crispEdges"/><rect x="504" y="17" width="27" height="1" fill="#fff" shape-rendering="crispEdges"/>
<path d="M512.3 1.5V15 M509.7 12.4H523.3" stroke="#505050" stroke-width="1.1" fill="none"/>
<path d="M510.3 3.6L512.3 0.8L514.3 3.6Z M521.3 10.5L524.1 12.5L521.3 14.5Z" fill="#505050"/>
<path d="M518.1 1V10.5" stroke="#2c6cb4" stroke-width="1.3"/>
<path d="M519.5 6.2H524 M521.8 4.2L519.6 6.2L521.8 8.2" stroke="#d03010" stroke-width="1.1" fill="none"/>
<rect x="533" y="0" width="1" height="16" fill="#a0a0a0" shape-rendering="crispEdges"/><rect x="534" y="0" width="1" height="16" fill="#fafafa" shape-rendering="crispEdges"/>
<path d="M543.5 -2H551l3 3V12H543.5Z" fill="#f8f8f8" stroke="#8c8c8c" stroke-width="1"/>
<path d="M546 2.5v6h4" stroke="#707070" stroke-width="1" fill="none"/>
<path d="M553 5V16 M547.5 10.5H558.5" stroke="#0c8c0c" stroke-width="4.2"/>
<path d="M553 5.8V15.2 M548.3 10.5H557.7" stroke="#30cc30" stroke-width="2.6"/>
<polygon points="564.8,5.8 570.2,5.8 567.5,9.2" fill="#000"/>
<circle cx="588.8" cy="6" r="7.2" fill="#f4f8ff" stroke="#2464d0" stroke-width="2.4"/>
<path d="M588.8 2.5V6.5H592" stroke="#505050" stroke-width="1.1" fill="none"/>
<polygon points="603.6,5.8 609,5.8 606.3,9.2" fill="#000"/>
<rect x="620.5" y="-2" width="15.5" height="15.3" rx="1" fill="#fff" stroke="#3470cc" stroke-width="1.3"/>
<rect x="621" y="-2" width="14.5" height="2.6" fill="#3470cc"/>
<path d="M622 7.8H634.5" stroke="#3470cc" stroke-width="0.9"/>
<path d="M622.5 5.5l2-1l2 1l2-1.5l2 0.5l3-1.2" stroke="#c03018" stroke-width="1.2" fill="none"/>
<path d="M622.5 11.5l2-1l2 1l2-2l2 1.5l2-1.5l1 1" stroke="#189c28" stroke-width="1.2" fill="none"/>
<polygon points="642.9,5.8 648.3,5.8 645.6,9.2" fill="#000"/>
<rect x="654" y="0" width="1" height="19" fill="#8c8c8c" shape-rendering="crispEdges"/><rect x="655" y="0" width="1" height="19" fill="#fafafa" shape-rendering="crispEdges"/>
<rect x="658" y="1" width="3" height="1" fill="#b4b4b4" shape-rendering="crispEdges"/>
<rect x="658" y="3" width="3" height="1" fill="#b4b4b4" shape-rendering="crispEdges"/>
<rect x="658" y="5" width="3" height="1" fill="#b4b4b4" shape-rendering="crispEdges"/>
<rect x="658" y="7" width="3" height="1" fill="#b4b4b4" shape-rendering="crispEdges"/>
<rect x="658" y="9" width="3" height="1" fill="#b4b4b4" shape-rendering="crispEdges"/>
<rect x="658" y="11" width="3" height="1" fill="#b4b4b4" shape-rendering="crispEdges"/>
<rect x="658" y="13" width="3" height="1" fill="#b4b4b4" shape-rendering="crispEdges"/>
<rect x="658" y="15" width="3" height="1" fill="#b4b4b4" shape-rendering="crispEdges"/>
<rect x="664" y="0" width="1" height="16" fill="#a0a0a0" shape-rendering="crispEdges"/><rect x="665" y="0" width="1" height="16" fill="#fafafa" shape-rendering="crispEdges"/>
<rect x="665" y="0" width="24" height="17" fill="url(#chk)" shape-rendering="crispEdges"/><rect x="664" y="17" width="26" height="1" fill="#fff" shape-rendering="crispEdges"/>
<path d="M672 -1V11.2L674.8 8.6L677.2 13.6L679 12.8L676.7 7.9L680.4 7.7Z" fill="#484848"/>
<path d="M697 7.5H712 M704.4 0V15" stroke="#585858" stroke-width="1"/>
<rect x="721" y="0" width="1" height="16" fill="#a0a0a0" shape-rendering="crispEdges"/><rect x="722" y="0" width="1" height="16" fill="#fafafa" shape-rendering="crispEdges"/>
<path d="M738.4 1V14" stroke="#585858" stroke-width="1.1"/>
<path d="M760.5 7.5H773.2" stroke="#585858" stroke-width="1.1"/>
<path d="M788.7 13.8L801.3 1.8" stroke="#585858" stroke-width="1.1"/>
<path d="M815 11.5L827 -1 M817.5 13L829 1 M816.5 8l3.5 3 M819.5 5l3.5 3 M822.5 2l3.5 3 M825.5 -1l3 3" stroke="#585858" stroke-width="1" fill="none"/>
<text x="825.6" y="16" font-size="6.5" fill="#303030" font-weight="bold" >E</text>
<path d="M843.7 0.6H857" stroke="#585858" stroke-width="1" stroke-dasharray="1 1"/>
<path d="M843.7 4H857" stroke="#585858" stroke-width="1" stroke-dasharray="1 1"/>
<path d="M843.7 8H857" stroke="#585858" stroke-width="1" stroke-dasharray="1 1"/>
<path d="M843.7 11.8H857" stroke="#585858" stroke-width="1" stroke-dasharray="1 1"/>
<text x="853.5" y="16" font-size="6.5" fill="#303030" font-weight="bold" >F</text>
<text x="874.3" y="12" font-size="12" fill="#585858" textLength="8.4" lengthAdjust="spacingAndGlyphs" font-weight="bold" >A</text>
<rect x="901.5" y="0.5" width="11.6" height="13" fill="none" stroke="#585858" stroke-width="1" stroke-dasharray="1 1"/>
<text x="903.4" y="12" font-size="11" fill="#585858" textLength="7.8" lengthAdjust="spacingAndGlyphs" font-weight="bold" >T</text>
<polygon points="931.5,0.8 934.8,4 931.5,5.4 928.2,4" fill="#484848"/>
<polygon points="938.5,13.6 935.2,10.4 938.5,9 941.8,10.4" fill="#484848"/>
<path d="M929.5 7.2L932.5 10L938.5 4.2" stroke="#484848" stroke-width="1.5" fill="none"/>
<polygon points="948.6,5.8 954,5.8 951.3,9.2" fill="#000"/>
<rect x="960" y="0" width="1" height="19" fill="#8c8c8c" shape-rendering="crispEdges"/><rect x="961" y="0" width="1" height="19" fill="#fafafa" shape-rendering="crispEdges"/>
<rect x="964" y="1" width="3" height="1" fill="#b4b4b4" shape-rendering="crispEdges"/>
<rect x="964" y="3" width="3" height="1" fill="#b4b4b4" shape-rendering="crispEdges"/>
<rect x="964" y="5" width="3" height="1" fill="#b4b4b4" shape-rendering="crispEdges"/>
<rect x="964" y="7" width="3" height="1" fill="#b4b4b4" shape-rendering="crispEdges"/>
<rect x="964" y="9" width="3" height="1" fill="#b4b4b4" shape-rendering="crispEdges"/>
<rect x="964" y="11" width="3" height="1" fill="#b4b4b4" shape-rendering="crispEdges"/>
<rect x="964" y="13" width="3" height="1" fill="#b4b4b4" shape-rendering="crispEdges"/>
<rect x="964" y="15" width="3" height="1" fill="#b4b4b4" shape-rendering="crispEdges"/>
<rect x="1138" y="0" width="1" height="16" fill="#a0a0a0" shape-rendering="crispEdges"/><rect x="1139" y="0" width="1" height="16" fill="#fafafa" shape-rendering="crispEdges"/>
<rect x="1139" y="0" width="24" height="17" fill="url(#chk)" shape-rendering="crispEdges"/><rect x="1138" y="17" width="26" height="1" fill="#fff" shape-rendering="crispEdges"/>
<text x="975.6" y="11" font-size="10" fill="#404040" textLength="12.5" lengthAdjust="spacingAndGlyphs" >M1</text>
<text x="1003.5" y="11" font-size="10" fill="#404040" textLength="12.8" lengthAdjust="spacingAndGlyphs" >M5</text>
<text x="1029.7" y="11" font-size="10" fill="#404040" textLength="17.6" lengthAdjust="spacingAndGlyphs" >M15</text>
<text x="1057.7" y="11" font-size="10" fill="#404040" textLength="17.6" lengthAdjust="spacingAndGlyphs" >M30</text>
<text x="1088.7" y="11" font-size="10" fill="#404040" textLength="11.4" lengthAdjust="spacingAndGlyphs" >H1</text>
<text x="1115.6" y="11" font-size="10" fill="#404040" textLength="12.2" lengthAdjust="spacingAndGlyphs" >H4</text>
<text x="1144.6" y="11" font-size="10" fill="#404040" textLength="11.5" lengthAdjust="spacingAndGlyphs" >D1</text>
<text x="1172.2" y="11" font-size="10" fill="#404040" textLength="14" lengthAdjust="spacingAndGlyphs" >W1</text>
<text x="1198.7" y="11" font-size="10" fill="#404040" textLength="14.4" lengthAdjust="spacingAndGlyphs" >MN</text>
<rect x="1221" y="0" width="1" height="18" fill="#a0a0a0" shape-rendering="crispEdges"/><rect x="1222" y="0" width="1" height="18" fill="#fafafa" shape-rendering="crispEdges"/>
<path d="M1684 12.6L1688.6 8" stroke="#2a6cd8" stroke-width="2.6" stroke-linecap="round"/>
<circle cx="1691.7" cy="5" r="4.4" fill="#f4f8ff" stroke="#2a6cd8" stroke-width="2"/>
<path d="M1726 8.4l1.6 2.4l-3.8-2.2Z" fill="#707070"/>
<ellipse cx="1724.2" cy="3.4" rx="6.6" ry="5" fill="#f2f2f6" stroke="#8a8a8a" stroke-width="0.9"/>
<path d="M1713.4 10.6l-1.4 3l3.8-2.4Z" fill="#707070"/>
<ellipse cx="1715.4" cy="7.8" rx="5.2" ry="3.8" fill="#f6f6fa" stroke="#8a8a8a" stroke-width="0.9"/>
</g>
<g shape-rendering="crispEdges">
<rect x="0" y="18" width="1736" height="1" fill="#e6e6e6" />
<rect x="0" y="19" width="1736" height="1" fill="#ababab" />
<rect x="0" y="20" width="1736" height="1" fill="#7a7a7a" />
<rect x="0" y="21" width="1736" height="2" fill="#fff" />
</g>
</svg>
</body></html>
